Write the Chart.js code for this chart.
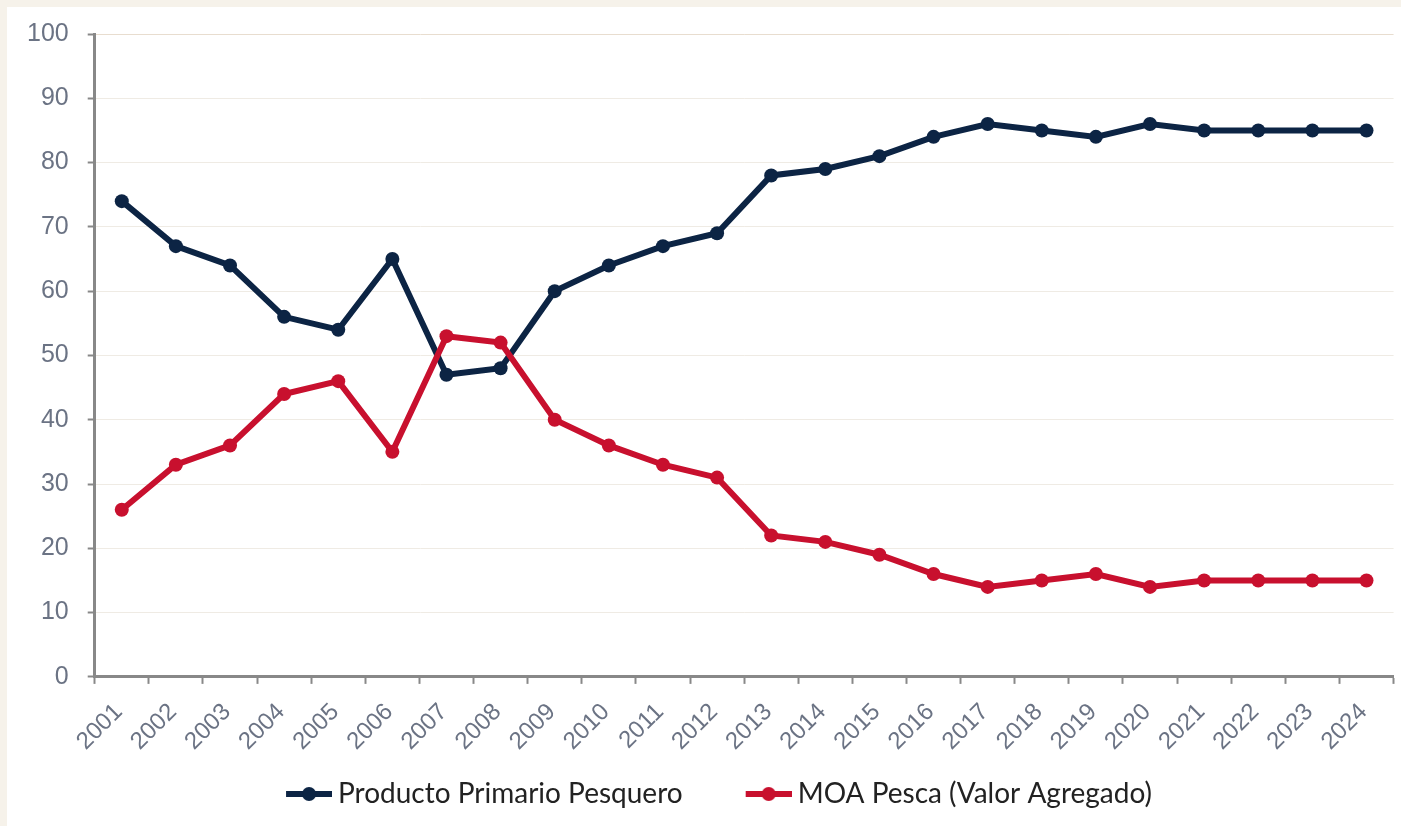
<!DOCTYPE html>
<html lang="es">
<head>
  <meta charset="UTF-8">
  <title>Producto Primario vs MOA Pesca</title>
  <script src="https://cdn.jsdelivr.net/npm/chart.js@4.4.1/dist/chart.umd.min.js"></script>
  <style>
    html, body { margin: 0; padding: 0; background: #f6f2ea; }
    #panel { position: absolute; left: 7px; top: 7px; width: 1394px; height: 819px; background: #ffffff; }
    #grafico { position: relative; width: 1394px; height: 819px; }
  </style>
</head>
<body>
  <div id="panel">
    <div id="grafico"><canvas id="myChart"></canvas></div>
  </div>
  <script>
    // datos (porcentaje)
    var anios = ['2001','2002','2003','2004','2005','2006','2007','2008','2009','2010','2011','2012',
                 '2013','2014','2015','2016','2017','2018','2019','2020','2021','2022','2023','2024'];
    var primario = [74, 67, 64, 56, 54, 65, 47, 48, 60, 64, 67, 69, 78, 79, 81, 84, 86, 85, 84, 86, 85, 85, 85, 85];
    var moaPesca = [26, 33, 36, 44, 46, 35, 53, 52, 40, 36, 33, 31, 22, 21, 19, 16, 14, 15, 16, 14, 15, 15, 15, 15];

    var azul = '#0c2444';
    var rojo = '#c8102e';

    // icono de leyenda: linea con punto, pegado a la derecha (cerca del texto)
    var anchoCaja = 71;
    function iconoLeyenda(color) {
      var c = document.createElement('canvas');
      c.width = anchoCaja + 16; c.height = 16;
      var g = c.getContext('2d');
      var x0 = c.width - 46;
      g.fillStyle = color;
      g.fillRect(x0, 5, 46, 6);
      g.beginPath();
      g.arc(x0 + 23, 8, 7, 0, Math.PI * 2);
      g.fill();
      return c;
    }
    var iconos = [iconoLeyenda(azul), iconoLeyenda(rojo)];

    var ctx = document.getElementById('myChart').getContext('2d');
    var chart = new Chart(ctx, {
      type: 'line',
      data: {
        labels: anios,
        datasets: [{
          label: 'Producto Primario Pesquero',
          data: primario,
          borderColor: azul,
          backgroundColor: azul,
          borderWidth: 6,
          pointRadius: 7,
          pointBorderWidth: 0,
          pointBackgroundColor: azul,
          tension: 0,
          order: 1
        }, {
          label: 'MOA Pesca (Valor Agregado)',
          data: moaPesca,
          borderColor: rojo,
          backgroundColor: rojo,
          borderWidth: 6,
          pointRadius: 7,
          pointBorderWidth: 0,
          pointBackgroundColor: rojo,
          tension: 0,
          order: 0
        }]
      },
      options: {
        responsive: true,
        maintainAspectRatio: false,
        animation: false,
        layout: { padding: { left: 1, right: 4, top: 4, bottom: 8 } },
        scales: {
          x: {
            offset: true,
            grid: {
              offset: true,
              drawOnChartArea: false,
              drawTicks: true,
              tickLength: 7,
              tickColor: '#888888',
              tickWidth: 2
            },
            border: { color: '#888888', width: 3 },
            ticks: {
              color: '#6b7384',
              font: { family: 'Liberation Sans', size: 24 },
              minRotation: 45,
              maxRotation: 45,
              autoSkip: false,
              padding: 14,
              labelOffset: -3
            },
            // el padding cuenta doble en la altura del eje; se compensa aqui
            afterFit: function (s) { s.height -= 20; }
          },
          y: {
            min: 0,
            max: 100,
            grid: {
              color: function (c) { return c.tick && c.tick.value === 100 ? '#e8ddcf' : '#efebe4'; },
              lineWidth: 1,
              tickLength: 7,
              tickColor: '#888888',
              tickWidth: 2
            },
            border: { color: '#888888', width: 3 },
            ticks: {
              stepSize: 10,
              color: '#6b7384',
              font: { family: 'Liberation Sans', size: 25, lineHeight: '16px' },
              padding: 19
            }
          }
        },
        plugins: {
          tooltip: { enabled: false },
          legend: {
            position: 'bottom',
            labels: {
              usePointStyle: true,
              pointStyleWidth: anchoCaja,
              color: '#222222',
              font: { family: 'Lato', size: 28 },
              padding: 30,
              generateLabels: function (ch) {
                return ch.data.datasets.map(function (ds, i) {
                  return {
                    text: ds.label,
                    pointStyle: iconos[i],
                    fillStyle: ds.borderColor,
                    strokeStyle: ds.borderColor,
                    lineWidth: 0,
                    fontColor: '#222222',
                    hidden: false,
                    datasetIndex: i
                  };
                });
              }
            }
          }
        }
      }
    });
  </script>
</body>
</html>
